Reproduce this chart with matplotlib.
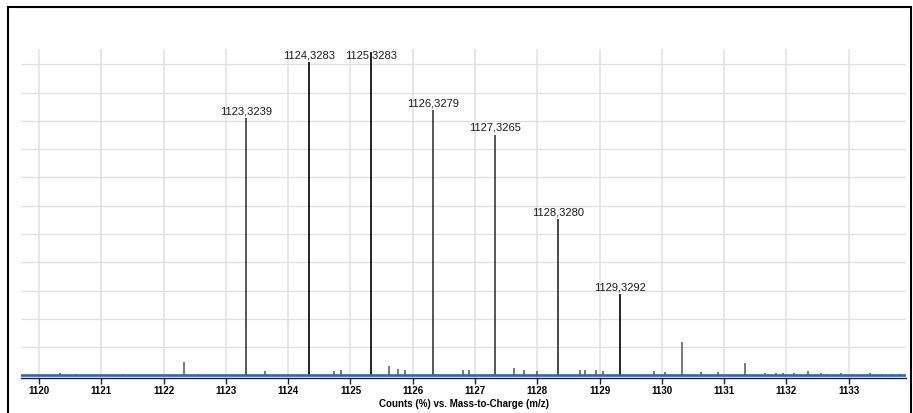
import matplotlib
matplotlib.use("Agg")
import matplotlib.pyplot as plt
from matplotlib.patches import Rectangle

# Labelled main isotope peaks
main_mz = [1123.3239, 1124.3283, 1125.3283, 1126.3279, 1127.3265, 1128.3280, 1129.3292]
main_h = [9.10, 11.07, 11.45, 9.38, 8.51, 5.53, 2.88]
main_labels = ["1123,3239", "1124,3283", "1125,3283", "1126,3279", "1127,3265", "1128,3280", "1129,3292"]
main_colors = ["#3a3a3a", "#000000", "#000000", "#3a3a3a", "#3a3a3a", "#2a2a2a", "#000000"]

# Small unlabelled peaks
minor_mz = [1120.33, 1120.60, 1121.34, 1122.32, 1122.55, 1123.62, 1124.74, 1124.85,
            1125.62, 1125.77, 1125.88, 1126.81, 1126.90, 1127.62, 1127.78, 1127.99,
            1128.68, 1128.76, 1128.94, 1129.06, 1129.87, 1130.05, 1130.33, 1130.63,
            1130.90, 1131.33, 1131.65, 1131.83, 1131.95, 1132.12, 1132.35, 1132.56,
            1132.65, 1132.88, 1133.06, 1133.34, 1133.54, 1133.70, 1133.82]
minor_h = [0.10, 0.05, 0.05, 0.48, 0.05, 0.16, 0.17, 0.20,
           0.35, 0.23, 0.20, 0.20, 0.20, 0.27, 0.20, 0.17,
           0.20, 0.20, 0.20, 0.15, 0.15, 0.12, 1.18, 0.12,
           0.12, 0.44, 0.08, 0.08, 0.08, 0.08, 0.15, 0.08,
           0.05, 0.08, 0.05, 0.08, 0.05, 0.05, 0.06]

x_ticks = list(range(1120, 1134))
y_grid = list(range(1, 12))

W, H = 913, 414
fig = plt.figure(figsize=(W / 100, H / 100), dpi=100)
fig.patch.set_facecolor("white")

# outer frame
fig.add_artist(Rectangle((8 / W, -0.05), (911 - 8) / W, (H - 8) / H + 0.05,
                         transform=fig.transFigure, fill=False,
                         edgecolor="black", linewidth=1.5))

ax = fig.add_axes([21 / W, 35 / H, (906 - 21) / W, (379 - 50) / H])
ax.set_xlim(1119.71, 1133.92)
ax.set_ylim(-0.09, 11.54)

for g in y_grid:
    ax.axhline(g, color="#e0e0e0", lw=0.9, zorder=0)
for t in x_ticks:
    ax.axvline(t, color="#e4e4e4", lw=1.3, zorder=0)

ax.vlines(minor_mz, 0, minor_h, color="#555555", lw=1.1, zorder=2)
ax.vlines(main_mz, 0, main_h, colors=main_colors, lw=1.2, zorder=2)

label_cap = 11.07
for mz, h, lab in zip(main_mz, main_h, main_labels):
    ax.annotate(lab, (mz, min(h, label_cap)), xytext=(0, 2), textcoords="offset points",
                ha="center", va="bottom", fontsize=8, color="#1a1a1a",
                family="Liberation Sans", zorder=3)

ax.axhline(0, color="#2f65c0", lw=1.9, zorder=4)

for s in ["top", "right", "left"]:
    ax.spines[s].set_visible(False)
ax.spines["bottom"].set_color("#222222")
ax.spines["bottom"].set_linewidth(1.0)
ax.set_yticks([])
ax.set_xticks(x_ticks)
ax.set_xticklabels([str(t) for t in x_ticks], fontsize=7, fontweight="bold",
                   family="Liberation Sans")
ax.tick_params(axis="x", length=4, width=1, color="#222222", pad=1)
ax.set_xlabel("Counts (%) vs. Mass-to-Charge (m/z)", fontsize=7, fontweight="bold",
              family="Liberation Sans", labelpad=2)
ax.set_facecolor("white")

fig.savefig("out.png", dpi=100)
